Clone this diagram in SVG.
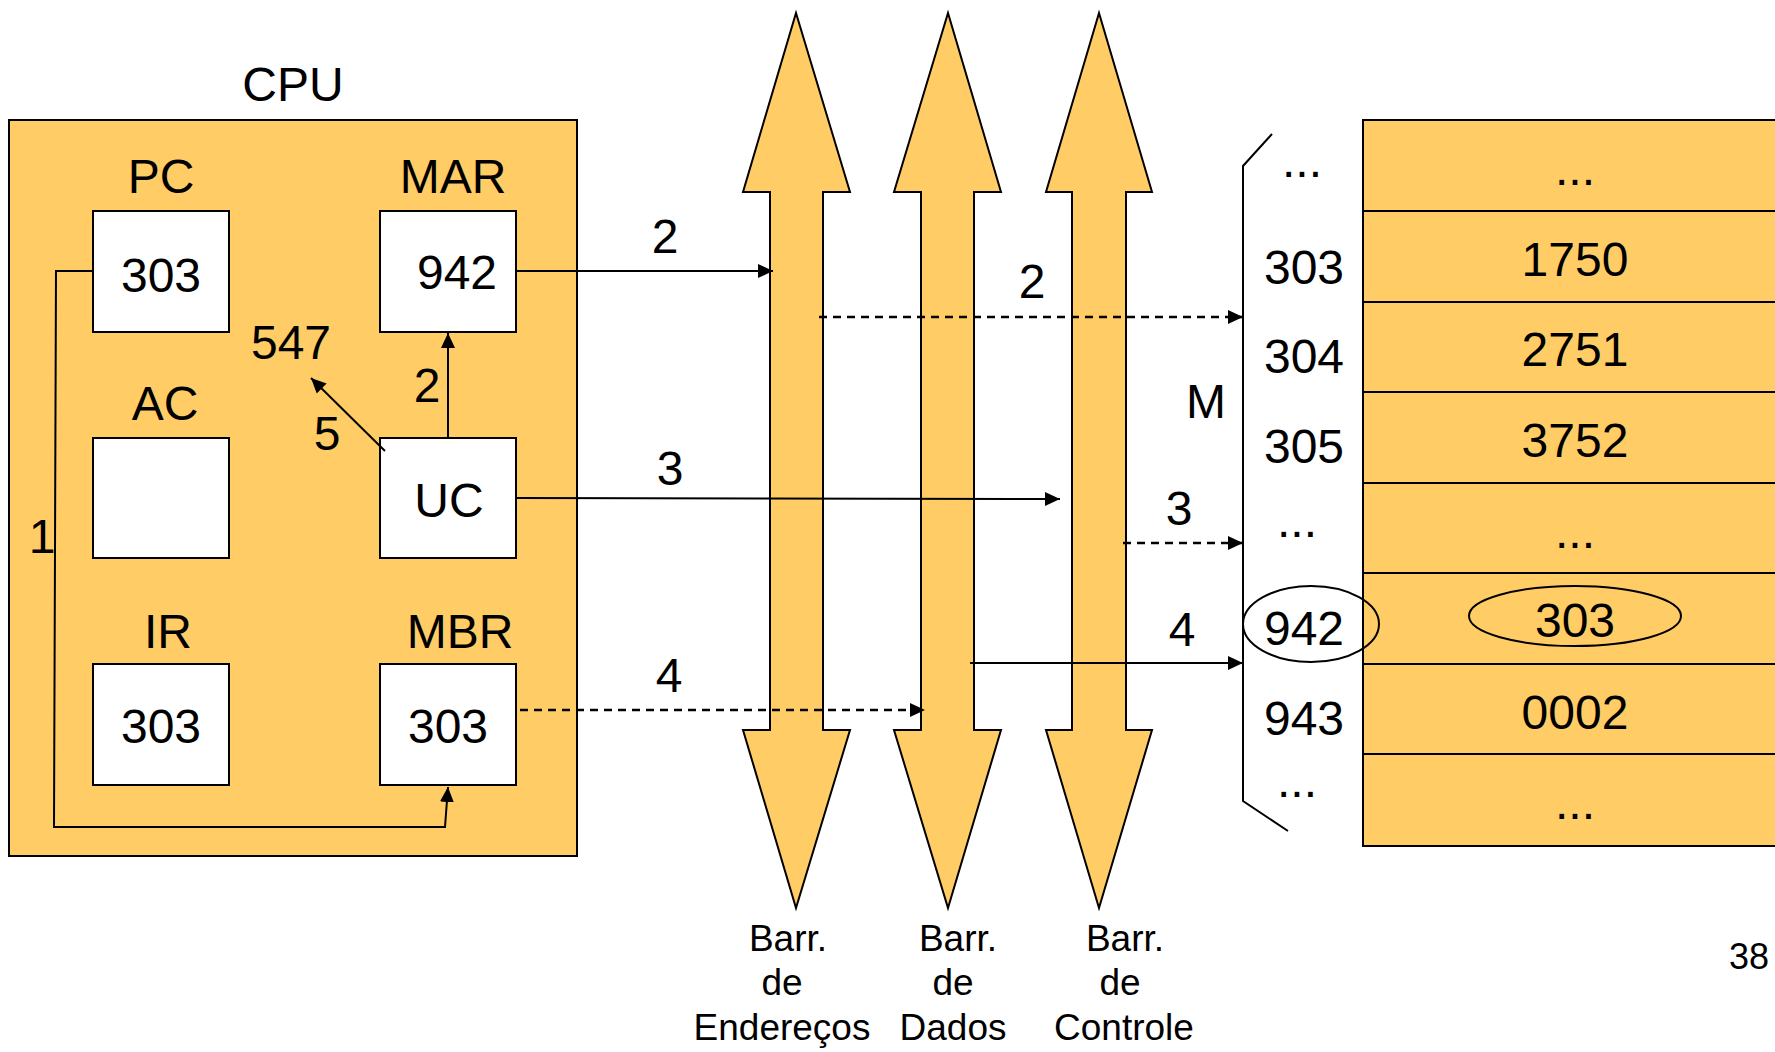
<svg xmlns="http://www.w3.org/2000/svg" width="1775" height="1052" viewBox="0 0 1775 1052">
<style>
text{font-family:"Liberation Sans",Arial,sans-serif;fill:#000;text-anchor:middle}
.big{font-size:48px}
.small{font-size:36px}
.bus{font-size:37px}
.box{fill:#fff;stroke:#000;stroke-width:2}
.org{fill:#FFCC66;stroke:#000;stroke-width:2}
.ln{fill:none;stroke:#000;stroke-width:2}
.dash{fill:none;stroke:#000;stroke-width:2.5;stroke-dasharray:8,6}
</style>
<defs>
<marker id="ah" markerUnits="userSpaceOnUse" markerWidth="16" markerHeight="16" viewBox="0 0 16 16" refX="15" refY="8" orient="auto">
<path d="M0,1 L15,8 L0,15 Z" fill="#000"/>
</marker>
</defs>
<rect width="1775" height="1052" fill="#fff"/>

<g id="cpu">
<text class="big" x="293" y="101">CPU</text>
<rect class="org" x="9" y="120" width="568" height="736"/>
</g>
<g id="pc">
<text class="big" x="161" y="193">PC</text>
<rect class="box" x="93" y="211" width="136" height="121"/>
<text class="big" x="161" y="292">303</text>
</g>
<g id="mar">
<text class="big" x="453" y="193">MAR</text>
<rect class="box" x="380" y="211" width="136" height="121"/>
<text class="big" x="457" y="289">942</text>
</g>
<g id="ac">
<text class="big" x="165" y="420">AC</text>
<rect class="box" x="93" y="438" width="136" height="120"/>
</g>
<g id="uc">
<rect class="box" x="380" y="438" width="136" height="120"/>
<text class="big" x="449" y="517">UC</text>
</g>
<g id="ir">
<text class="big" x="168" y="648">IR</text>
<rect class="box" x="93" y="664" width="136" height="121"/>
<text class="big" x="161" y="743">303</text>
</g>
<g id="mbr">
<text class="big" x="460" y="648">MBR</text>
<rect class="box" x="380" y="664" width="136" height="121"/>
<text class="big" x="448" y="743">303</text>
</g>
<g id="val547">
<text class="big" x="291" y="359">547</text>
</g>

<g id="bus-enderecos">
<polygon class="org" points="796,13 850,192 823,192 823,730 850,730 796,908 743,730 770,730 770,192 743,192"/>
<text class="bus" x="788" y="951">Barr.</text>
<text class="bus" x="782" y="995">de</text>
<text class="bus" x="782" y="1040">Endereços</text>
</g>
<g id="bus-dados">
<polygon class="org" points="948,13 1001,192 974,192 974,730 1001,730 948,908 894,730 921,730 921,192 894,192"/>
<text class="bus" x="958" y="951">Barr.</text>
<text class="bus" x="953" y="995">de</text>
<text class="bus" x="953" y="1040">Dados</text>
</g>
<g id="bus-controle">
<polygon class="org" points="1099,13 1152,192 1126,192 1126,730 1152,730 1099,908 1046,730 1072,730 1072,192 1046,192"/>
<text class="bus" x="1125" y="951">Barr.</text>
<text class="bus" x="1120" y="995">de</text>
<text class="bus" x="1124" y="1040">Controle</text>
</g>

<g id="memory">
<rect class="org" x="1363" y="120" width="420" height="726"/>
<path class="ln" d="M1363,211H1775M1363,302H1775M1363,392H1775M1363,483H1775M1363,573H1775M1363,664H1775M1363,754H1775"/>
<polyline class="ln" points="1272,134 1243,166 1243,801 1288,831"/>
<text class="big" x="1206" y="418">M</text>
<text class="big" x="1302" y="177">...</text>
<text class="big" x="1304" y="284">303</text>
<text class="big" x="1304" y="373">304</text>
<text class="big" x="1304" y="463">305</text>
<text class="big" x="1297" y="537">...</text>
<text class="big" x="1304" y="645">942</text>
<text class="big" x="1304" y="735">943</text>
<text class="big" x="1297" y="797">...</text>
<text class="big" x="1575" y="185">...</text>
<text class="big" x="1575" y="276">1750</text>
<text class="big" x="1575" y="366">2751</text>
<text class="big" x="1575" y="457">3752</text>
<text class="big" x="1575" y="548">...</text>
<text class="big" x="1575" y="637">303</text>
<text class="big" x="1575" y="729">0002</text>
<text class="big" x="1575" y="819">...</text>
<ellipse class="ln" cx="1311" cy="624" rx="68" ry="38"/>
<ellipse class="ln" cx="1575" cy="616" rx="106" ry="30"/>
</g>

<g id="connectors">
<line class="ln" x1="448" y1="438" x2="448" y2="333" marker-end="url(#ah)"/>
<text class="big" x="427" y="402">2</text>
<line class="ln" x1="385" y1="451" x2="311" y2="378" marker-end="url(#ah)"/>
<text class="big" x="327" y="450">5</text>
<polyline class="ln" points="93,271 56,271 54,827 445,827 448,787" marker-end="url(#ah)"/>
<text class="big" x="42" y="553">1</text>
<line class="ln" x1="516" y1="271" x2="773" y2="271" marker-end="url(#ah)"/>
<text class="big" x="665" y="253">2</text>
<line class="dash" x1="819" y1="317" x2="1243" y2="317" marker-end="url(#ah)"/>
<text class="big" x="1032" y="298">2</text>
<line class="ln" x1="516" y1="498" x2="1060" y2="499" marker-end="url(#ah)"/>
<text class="big" x="670" y="485">3</text>
<line class="dash" x1="1123" y1="543" x2="1243" y2="543" marker-end="url(#ah)"/>
<text class="big" x="1179" y="525">3</text>
<line class="dash" x1="520" y1="710" x2="925" y2="710" marker-end="url(#ah)"/>
<text class="big" x="669" y="692">4</text>
<line class="ln" x1="970" y1="663" x2="1243" y2="663" marker-end="url(#ah)"/>
<text class="big" x="1182" y="646">4</text>
</g>

<text class="small" x="1749" y="969">38</text>
</svg>
